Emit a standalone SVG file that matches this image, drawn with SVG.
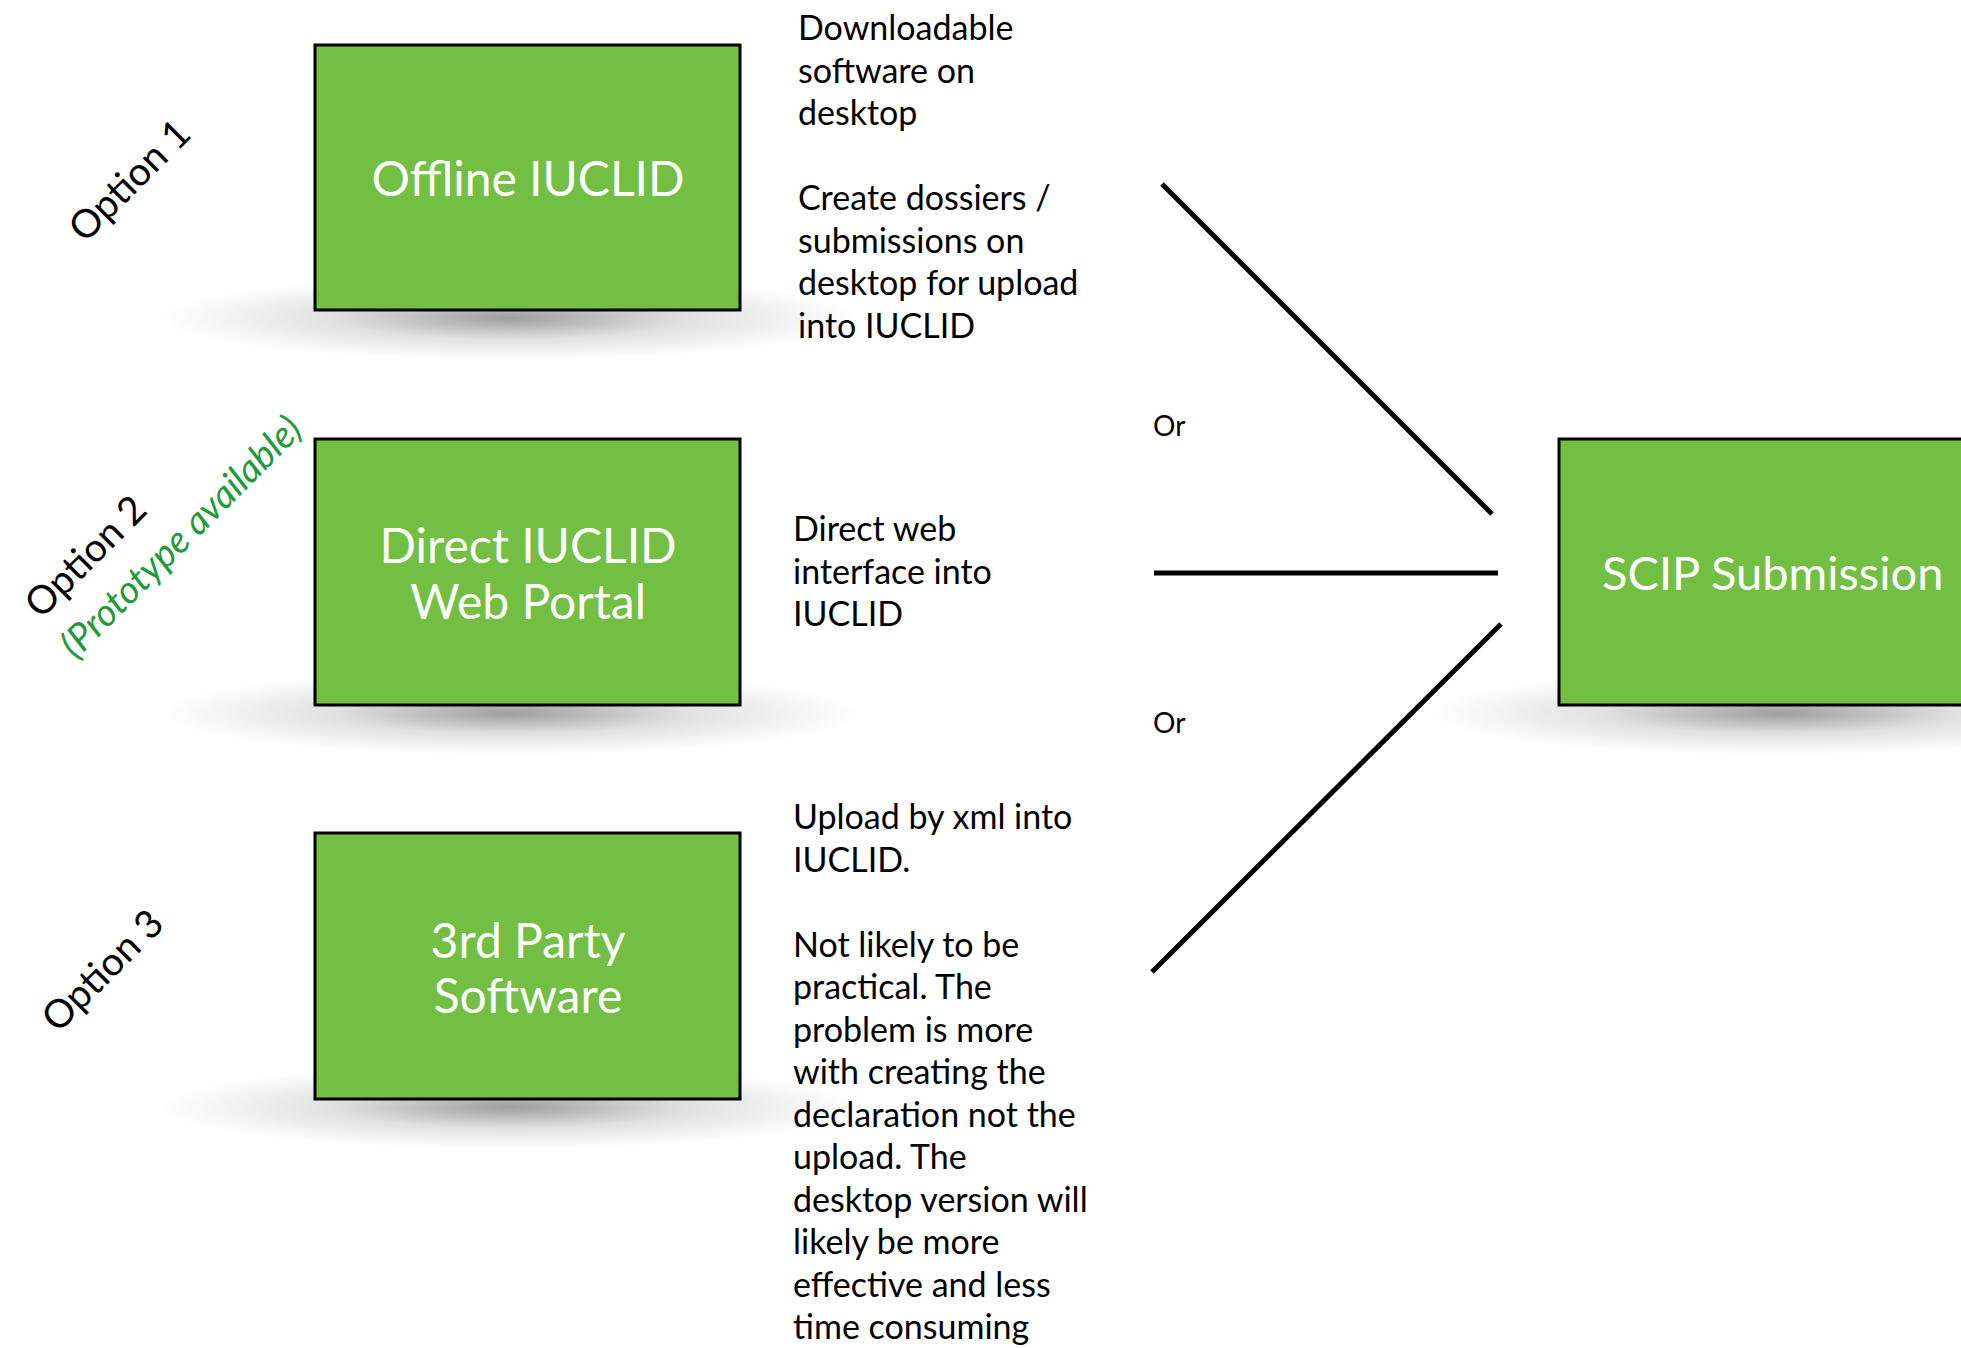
<svg xmlns="http://www.w3.org/2000/svg" width="1961" height="1348" viewBox="0 0 1961 1348">
<defs>
<radialGradient id="sh" cx="50%" cy="50%" r="50%">
<stop offset="0" stop-color="#000" stop-opacity="0.38"/>
<stop offset="0.5" stop-color="#000" stop-opacity="0.12"/>
<stop offset="1" stop-color="#000" stop-opacity="0"/>
</radialGradient>
<style>
.box{fill:#72bf44;stroke:#000;stroke-width:3}
.bt{font-family:Lato,"Open Sans",sans-serif;font-size:48px;fill:#fff;text-anchor:middle}
.d{font-family:Lato,"Open Sans",sans-serif;font-size:34px;fill:#000}
.opt{font-family:Lato,"Open Sans",sans-serif;font-size:39px;fill:#000;text-anchor:middle}
.pro{font-family:Lato,"Open Sans",sans-serif;font-size:38px;font-style:italic;fill:#1f9a3c;text-anchor:middle}
.ln{stroke:#000;stroke-width:5;fill:none}
.or{font-family:Lato,"Open Sans",sans-serif;font-size:28px;fill:#000}
</style>
</defs>
<rect width="1961" height="1348" fill="#fff"/>

<g id="connectors">
<line class="ln" x1="1162" y1="184" x2="1492" y2="514"/>
<line class="ln" x1="1154" y1="573" x2="1498" y2="573"/>
<line class="ln" x1="1152" y1="972" x2="1501" y2="624"/>
<text class="or" x="1153" y="436">Or</text>
<text class="or" x="1153" y="733">Or</text>
</g>

<g id="offline">
<ellipse cx="510" cy="318" rx="350" ry="42" fill="url(#sh)"/>
<rect class="box" x="315" y="45" width="425" height="265"/>
<text class="bt" x="528" y="196">Offline IUCLID</text>
</g>

<g id="direct">
<ellipse cx="510" cy="713" rx="350" ry="42" fill="url(#sh)"/>
<rect class="box" x="315" y="439" width="425" height="266"/>
<text class="bt" x="528" y="563">Direct IUCLID</text>
<text class="bt" x="528" y="619">Web Portal</text>
</g>

<g id="thirdparty">
<ellipse cx="510" cy="1107" rx="350" ry="42" fill="url(#sh)"/>
<rect class="box" x="315" y="833" width="425" height="266"/>
<text class="bt" x="528" y="958">3rd Party</text>
<text class="bt" x="528" y="1013">Software</text>
</g>

<g id="scip">
<ellipse cx="1780" cy="713" rx="350" ry="42" fill="url(#sh)"/>
<rect class="box" x="1559" y="439" width="420" height="266"/>
<text class="bt" x="1602" y="590" style="text-anchor:start;font-size:47px">SCIP Submission</text>
</g>

<g id="desc1">
<text class="d" x="798" y="40">Downloadable</text>
<text class="d" x="798" y="83">software on</text>
<text class="d" x="798" y="125">desktop</text>
<text class="d" x="798" y="210">Create dossiers /</text>
<text class="d" x="798" y="253">submissions on</text>
<text class="d" x="798" y="295">desktop for upload</text>
<text class="d" x="798" y="338">into IUCLID</text>
</g>

<g id="desc2">
<text class="d" x="793" y="541">Direct web</text>
<text class="d" x="793" y="584">interface into</text>
<text class="d" x="793" y="626">IUCLID</text>
</g>

<g id="desc3">
<text class="d" x="793" y="829">Upload by xml into</text>
<text class="d" x="793" y="872">IUCLID.</text>
<text class="d" x="793" y="957">Not likely to be</text>
<text class="d" x="793" y="999">practical. The</text>
<text class="d" x="793" y="1042">problem is more</text>
<text class="d" x="793" y="1084">with creating the</text>
<text class="d" x="793" y="1127">declaration not the</text>
<text class="d" x="793" y="1169">upload. The</text>
<text class="d" x="793" y="1212">desktop version will</text>
<text class="d" x="793" y="1254">likely be more</text>
<text class="d" x="793" y="1297">effective and less</text>
<text class="d" x="793" y="1339">time consuming</text>
</g>

<g id="labels">
<text class="opt" transform="translate(139,190) rotate(-45)">Option 1</text>
<text class="opt" transform="translate(95,566) rotate(-45)">Option 2</text>
<text class="pro" transform="translate(190,546) rotate(-45)">(Prototype available)</text>
<text class="opt" transform="translate(112,980) rotate(-45)">Option 3</text>
</g>
</svg>
